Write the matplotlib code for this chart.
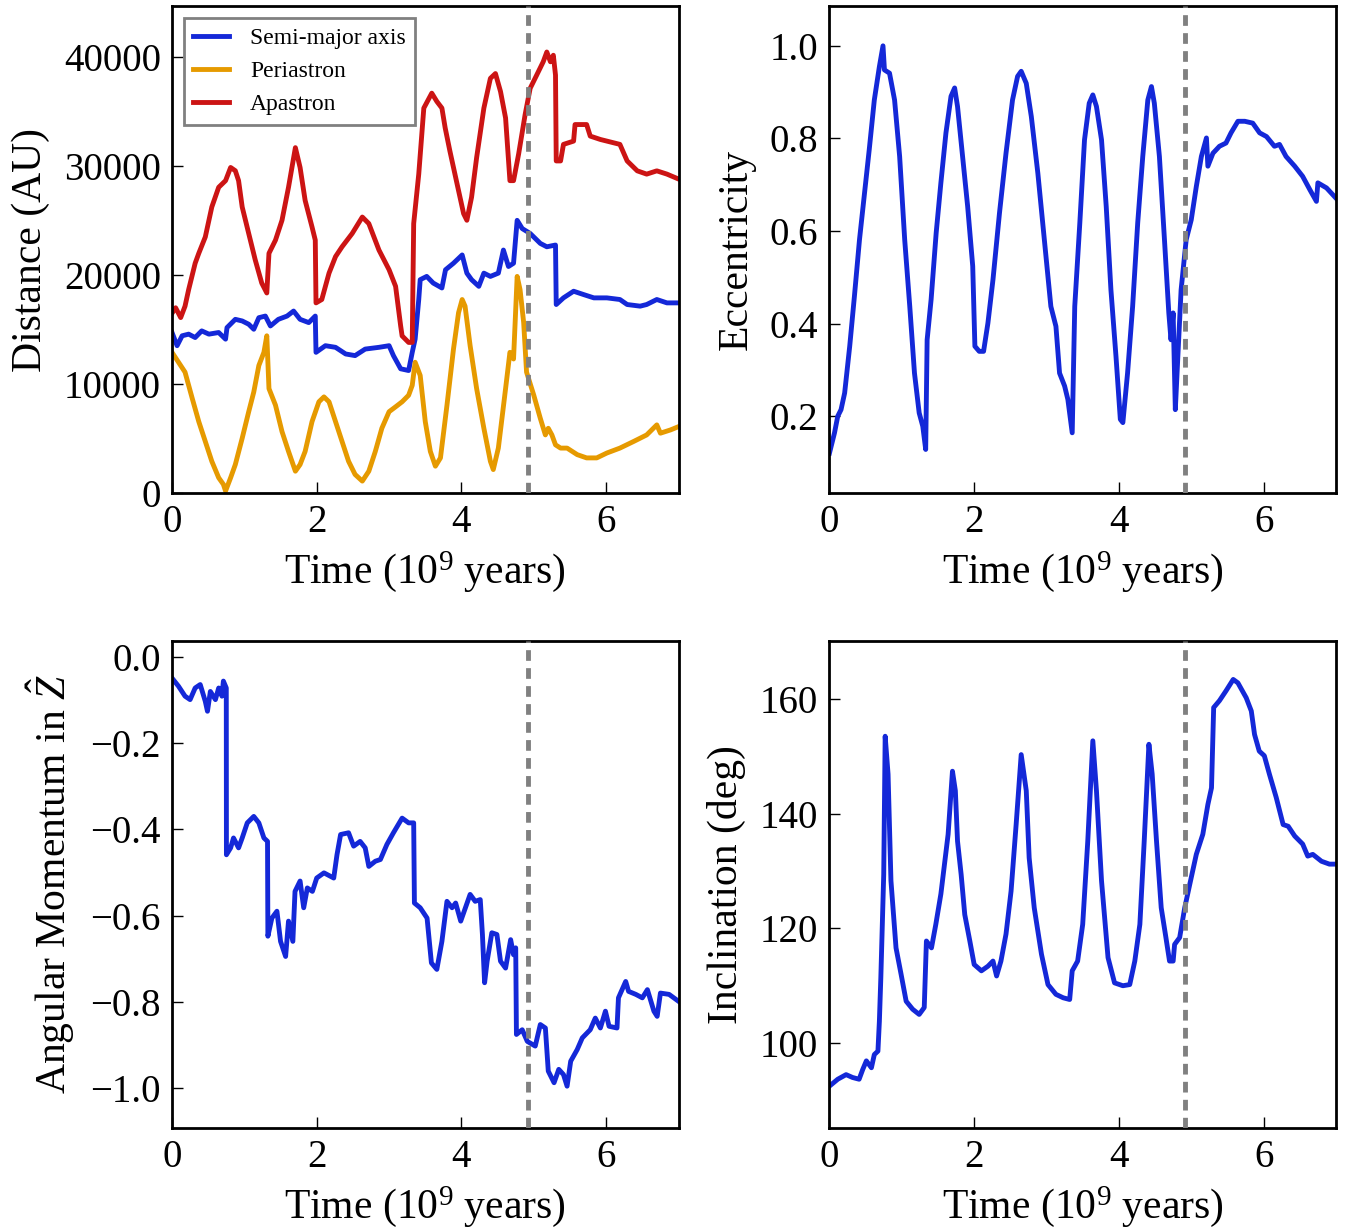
import numpy as np
import matplotlib
matplotlib.use("Agg")
import matplotlib.pyplot as plt

plt.rcParams['font.family'] = ['Liberation Serif', 'DejaVu Serif']
plt.rcParams['mathtext.fontset'] = 'custom'
plt.rcParams['mathtext.rm'] = 'Liberation Serif'
plt.rcParams['mathtext.it'] = 'Liberation Serif:italic'
plt.rcParams['font.size'] = 28

# Semi-major axis, periastron, apastron (AU) against time (Gyr)
apo_t = [0.0, 0.05, 0.12, 0.18, 0.23, 0.32, 0.37, 0.46, 0.55, 0.645, 0.74, 0.81, 0.875, 0.92, 0.97,
         1.06, 1.15, 1.24, 1.31, 1.34, 1.43, 1.52, 1.61, 1.705, 1.77, 1.84, 1.935, 1.98, 1.99, 2.07,
         2.17, 2.26, 2.35, 2.49, 2.63, 2.72, 2.86, 3.0, 3.09, 3.16, 3.18, 3.27, 3.32, 3.34, 3.41,
         3.48, 3.59, 3.66, 3.73, 3.775, 3.84, 3.94, 4.03, 4.075, 4.14, 4.21, 4.31, 4.40, 4.47, 4.54,
         4.61, 4.67, 4.72, 4.79, 4.88, 4.95, 5.04, 5.13, 5.18, 5.23, 5.27, 5.30, 5.31, 5.37, 5.41,
         5.55, 5.57, 5.73, 5.78, 5.92, 6.19, 6.29, 6.43, 6.56, 6.70, 6.84, 7.0]
apo_au = [16500, 17000, 16100, 17150, 18670, 21090, 22000, 23500, 26250, 28060, 28670, 29880, 29580,
          28670, 26250, 23820, 21400, 19270, 18360, 22000, 23210, 25030, 28060, 31700, 29880, 26850,
          24420, 23210, 17450, 17760, 20180, 21700, 22600, 23820, 25330, 24730, 22300, 20490, 18970,
          15330, 14420, 13820, 13820, 24730, 29270, 35330, 36700, 35940, 35330, 33520, 31400, 28360,
          25640, 25030, 27150, 30790, 35330, 38060, 38500, 36850, 34420, 28670, 28670, 31100, 34730,
          37150, 38360, 39580, 40480, 39580, 40180, 38360, 30480, 30480, 32000, 32300, 33820, 33820,
          32760, 32450, 32000, 30480, 29570, 29270, 29570, 29270, 28820]

a_t = [0.0, 0.07, 0.14, 0.23, 0.32, 0.41, 0.51, 0.645, 0.74, 0.76, 0.875, 0.97, 1.06, 1.13, 1.20,
       1.29, 1.36, 1.47, 1.59, 1.68, 1.77, 1.89, 1.98, 1.99, 2.12, 2.26, 2.40, 2.53, 2.67, 2.86, 3.0,
       3.06, 3.16, 3.27, 3.32, 3.36, 3.41, 3.43, 3.52, 3.61, 3.73, 3.78, 3.89, 4.01, 4.075, 4.14,
       4.24, 4.31, 4.40, 4.51, 4.58, 4.65, 4.72, 4.77, 4.84, 4.95, 5.09, 5.18, 5.30, 5.31, 5.41,
       5.55, 5.69, 5.83, 6.01, 6.19, 6.29, 6.47, 6.56, 6.70, 6.84, 7.0]
a_au = [14730, 13520, 14430, 14580, 14270, 14880, 14580, 14730, 14120, 15180, 15940, 15790, 15490,
        15030, 16090, 16240, 15330, 15940, 16240, 16700, 15940, 15640, 16240, 12910, 13520, 13370,
        12760, 12610, 13210, 13370, 13520, 12610, 11400, 11240, 12910, 14120, 17760, 19580, 19880,
        19270, 18820, 20490, 21090, 21850, 20180, 19580, 18970, 20180, 19880, 20180, 22300, 20790,
        21090, 25030, 24270, 23820, 22910, 22600, 22760, 17300, 17910, 18520, 18210, 17910, 17910,
        17760, 17300, 17150, 17300, 17760, 17450, 17450]

peri_t = [0.0, 0.09, 0.18, 0.28, 0.37, 0.46, 0.55, 0.645, 0.71, 0.74, 0.81, 0.875, 0.97, 1.06,
          1.13, 1.20, 1.27, 1.31, 1.34, 1.43, 1.52, 1.61, 1.705, 1.77, 1.84, 1.935, 2.03, 2.10,
          2.17, 2.26, 2.35, 2.44, 2.53, 2.63, 2.72, 2.81, 2.90, 3.0, 3.09, 3.18, 3.27, 3.32, 3.36,
          3.43, 3.50, 3.57, 3.64, 3.71, 3.80, 3.89, 3.96, 4.01, 4.05, 4.12, 4.21, 4.31, 4.40, 4.44,
          4.51, 4.61, 4.67, 4.72, 4.77, 4.81, 4.86, 4.90, 5.00, 5.09, 5.16, 5.20, 5.25, 5.30, 5.37,
          5.46, 5.60, 5.73, 5.87, 6.01, 6.19, 6.38, 6.56, 6.70, 6.75, 6.89, 7.0]
peri_au = [12910, 12000, 11090, 8670, 6550, 4730, 2910, 1400, 790, 180, 1400, 2610, 5030, 7460,
           9270, 11700, 12910, 14430, 9580, 8060, 5640, 3820, 2000, 2610, 3820, 6550, 8370, 8820,
           8370, 6550, 4730, 2910, 1700, 1090, 2000, 3820, 5940, 7460, 7910, 8370, 8970, 9880,
           12000, 10790, 6550, 3820, 2460, 3220, 8060, 13210, 16550, 17760, 17150, 13520, 9580,
           5940, 2910, 2150, 4120, 9580, 12910, 12300, 19880, 18670, 15640, 11090, 8970, 6850,
           5330, 5940, 5330, 4420, 4120, 4120, 3520, 3220, 3220, 3670, 4120, 4730, 5330, 6250,
           5490, 5790, 6090]

# Eccentricity
ecc_t = [0.0, 0.07, 0.115, 0.16, 0.21, 0.28, 0.345, 0.415, 0.48, 0.55, 0.62, 0.69, 0.74, 0.76,
         0.83, 0.90, 0.97, 1.04, 1.11, 1.175, 1.24, 1.29, 1.33, 1.35, 1.405, 1.475, 1.54, 1.61,
         1.68, 1.73, 1.77, 1.84, 1.91, 1.98, 2.01, 2.07, 2.13, 2.19, 2.26, 2.35, 2.44, 2.53, 2.60,
         2.65, 2.72, 2.79, 2.88, 2.97, 3.06, 3.13, 3.18, 3.25, 3.295, 3.355, 3.39, 3.46, 3.525,
         3.59, 3.64, 3.69, 3.76, 3.825, 3.89, 3.96, 4.02, 4.055, 4.12, 4.19, 4.26, 4.33, 4.40,
         4.45, 4.49, 4.56, 4.63, 4.69, 4.72, 4.75, 4.78, 4.815, 4.86, 4.93, 5.0, 5.07, 5.14,
         5.21, 5.23, 5.30, 5.39, 5.48, 5.55, 5.645, 5.74, 5.85, 5.945, 6.04, 6.15, 6.22, 6.31,
         6.43, 6.54, 6.64, 6.73, 6.75, 6.87, 7.0]
ecc = [0.12, 0.164, 0.20, 0.214, 0.25, 0.351, 0.459, 0.581, 0.675, 0.776, 0.883, 0.955, 1.0,
       0.948, 0.941, 0.883, 0.761, 0.581, 0.437, 0.293, 0.207, 0.178, 0.128, 0.365, 0.452, 0.596,
       0.704, 0.812, 0.891, 0.909, 0.869, 0.761, 0.653, 0.524, 0.351, 0.34, 0.34, 0.401, 0.495,
       0.639, 0.768, 0.883, 0.934, 0.945, 0.919, 0.847, 0.725, 0.581, 0.437, 0.394, 0.293, 0.265,
       0.236, 0.164, 0.437, 0.617, 0.797, 0.876, 0.894, 0.869, 0.797, 0.653, 0.473, 0.329, 0.193,
       0.186, 0.293, 0.437, 0.617, 0.761, 0.883, 0.912, 0.876, 0.761, 0.581, 0.423, 0.365, 0.423,
       0.214, 0.329, 0.473, 0.581, 0.624, 0.696, 0.761, 0.801, 0.74, 0.768, 0.783, 0.79, 0.812,
       0.837, 0.837, 0.833, 0.812, 0.804, 0.783, 0.787, 0.761, 0.74, 0.718, 0.689, 0.664, 0.704,
       0.693, 0.671]

# Angular momentum in Z
lz_t = [0.0, 0.09, 0.18, 0.25, 0.32, 0.39, 0.46, 0.49, 0.53, 0.60, 0.645, 0.69, 0.71, 0.75, 0.752,
        0.81, 0.85, 0.92, 0.97, 1.04, 1.13, 1.20, 1.27, 1.32, 1.325, 1.38, 1.45, 1.50, 1.57, 1.61,
        1.67, 1.70, 1.77, 1.82, 1.87, 1.94, 2.0, 2.10, 2.235, 2.28, 2.33, 2.44, 2.51, 2.60, 2.67,
        2.72, 2.81, 2.88, 2.97, 3.06, 3.18, 3.27, 3.34, 3.35, 3.43, 3.525, 3.585, 3.66, 3.73, 3.80,
        3.87, 3.92, 3.99, 4.055, 4.12, 4.19, 4.26, 4.29, 4.32, 4.355, 4.42, 4.49, 4.54, 4.61, 4.68,
        4.72, 4.75, 4.76, 4.84, 4.91, 5.02, 5.09, 5.16, 5.20, 5.28, 5.345, 5.41, 5.46, 5.51, 5.60,
        5.67, 5.78, 5.85, 5.92, 5.99, 6.04, 6.15, 6.17, 6.27, 6.31, 6.41, 6.50, 6.57, 6.66, 6.705,
        6.75, 6.87, 7.0]
lz = [-0.049, -0.068, -0.091, -0.099, -0.072, -0.064, -0.103, -0.126, -0.08, -0.099, -0.072,
      -0.091, -0.056, -0.072, -0.459, -0.443, -0.42, -0.443, -0.42, -0.385, -0.37, -0.385, -0.42,
      -0.428, -0.648, -0.606, -0.59, -0.66, -0.695, -0.613, -0.66, -0.544, -0.52, -0.582, -0.536,
      -0.544, -0.513, -0.501, -0.513, -0.459, -0.412, -0.408, -0.439, -0.428, -0.443, -0.486,
      -0.474, -0.47, -0.435, -0.408, -0.374, -0.385, -0.385, -0.571, -0.582, -0.606, -0.71,
      -0.725, -0.66, -0.567, -0.582, -0.571, -0.613, -0.582, -0.551, -0.567, -0.563, -0.644,
      -0.756, -0.706, -0.64, -0.644, -0.706, -0.722, -0.656, -0.691, -0.675, -0.876, -0.865,
      -0.892, -0.903, -0.853, -0.861, -0.961, -0.988, -0.957, -0.969, -0.996, -0.938, -0.911,
      -0.884, -0.865, -0.838, -0.861, -0.822, -0.857, -0.861, -0.791, -0.753, -0.776, -0.783,
      -0.791, -0.772, -0.822, -0.834, -0.78, -0.783, -0.799]

# Inclination (deg)
inc_t = [0.0, 0.115, 0.23, 0.32, 0.41, 0.46, 0.51, 0.58, 0.62, 0.67, 0.69, 0.71, 0.75, 0.77, 0.81,
         0.85, 0.92, 0.99, 1.06, 1.15, 1.24, 1.31, 1.34, 1.41, 1.47, 1.54, 1.59, 1.64, 1.70, 1.74,
         1.77, 1.82, 1.87, 1.94, 2.0, 2.10, 2.19, 2.26, 2.31, 2.37, 2.44, 2.51, 2.58, 2.65, 2.72,
         2.76, 2.83, 2.93, 3.02, 3.13, 3.23, 3.32, 3.355, 3.43, 3.50, 3.57, 3.64, 3.69, 3.76, 3.85,
         3.94, 4.055, 4.15, 4.22, 4.29, 4.35, 4.415, 4.46, 4.52, 4.585, 4.65, 4.70, 4.75, 4.77,
         4.84, 4.91, 4.98, 5.07, 5.16, 5.23, 5.28, 5.31, 5.39, 5.48, 5.58, 5.645, 5.76, 5.83,
         5.875, 5.94, 6.01, 6.08, 6.175, 6.27, 6.34, 6.43, 6.54, 6.61, 6.68, 6.80, 6.91, 7.0]
inc = [92.5, 93.7, 94.5, 94.0, 93.7, 95.4, 96.9, 95.7, 98.0, 98.6, 103.8, 111.4, 129.4, 153.5,
       146.9, 128.3, 116.6, 112.0, 107.3, 105.9, 105.0, 106.2, 117.8, 116.6, 120.7, 126.0, 131.2,
       136.4, 147.4, 144.0, 135.2, 129.4, 122.4, 117.8, 113.7, 112.6, 113.4, 114.3, 111.7, 114.3,
       119.0, 126.5, 138.1, 150.3, 144.0, 132.3, 123.6, 115.5, 110.2, 108.5, 107.9, 107.6, 112.6,
       114.3, 120.7, 135.2, 152.7, 144.0, 128.3, 114.9, 110.5, 110.0, 110.2, 114.3, 120.7, 135.2,
       152.1, 146.9, 135.2, 123.6, 118.4, 114.3, 114.3, 117.2, 118.4, 123.6, 127.7, 132.9, 136.4,
       141.6, 144.5, 158.5, 159.7, 161.4, 163.4, 162.8, 160.2, 157.9, 153.8, 150.9, 150.1, 146.9,
       142.8, 138.1, 137.8, 136.1, 134.7, 132.6, 132.9, 131.7, 131.2, 131.2]

t_mark = 4.92

blue = '#1428d8'
orange = '#e69a00'
red = '#cc1414'
lw = 3.5

fig, axes = plt.subplots(2, 2, figsize=(13.47, 12.29), dpi=100)
plt.subplots_adjust(left=0.1277, right=0.9918, top=0.9951, bottom=0.0822,
                    wspace=0.298, hspace=0.304)

ax = axes[0, 0]
ax.plot(a_t, a_au, color=blue, lw=lw, label='Semi-major axis')
ax.plot(peri_t, peri_au, color=orange, lw=lw, label='Periastron')
ax.plot(apo_t, apo_au, color=red, lw=lw, label='Apastron')
ax.set_ylim(0, 44700)
ax.set_yticks([0, 10000, 20000, 30000, 40000])
ax.set_ylabel('Distance (AU)', fontsize=30, labelpad=10)
leg = ax.legend(loc='upper left', fontsize=17, fancybox=False, edgecolor='grey',
                framealpha=1, handlelength=1.5, handletextpad=0.9, borderaxespad=0.5)
leg.get_frame().set_linewidth(2)

ax = axes[0, 1]
ax.plot(ecc_t, ecc, color=blue, lw=lw)
ax.set_ylim(0.034, 1.086)
ax.set_yticks([0.2, 0.4, 0.6, 0.8, 1.0])
ax.set_ylabel('Eccentricity', fontsize=30, labelpad=10)

ax = axes[1, 0]
ax.plot(lz_t, lz, color=blue, lw=lw)
ax.set_ylim(-1.093, 0.037)
ax.set_yticks([-1.0, -0.8, -0.6, -0.4, -0.2, 0.0])
ax.set_ylabel(r'Angular Momentum in $\hat{Z}$', fontsize=30, labelpad=10)

ax = axes[1, 1]
ax.plot(inc_t, inc, color=blue, lw=lw)
ax.set_ylim(85.2, 170.1)
ax.set_yticks([100, 120, 140, 160])
ax.set_ylabel('Inclination (deg)', fontsize=30, labelpad=10)

for ax in axes.flat:
    ax.axvline(t_mark, color='grey', lw=3.5, ls=(0, (2.2, 1.5)), zorder=5)
    ax.set_xlim(0, 7)
    ax.set_xticks([0, 2, 4, 6])
    ax.set_xlabel(r'Time ($10^9$ years)', fontsize=30, labelpad=6)
    ax.tick_params(direction='in', length=8, width=1, pad=8, top=False, right=False,
                   labelsize=28)
    for s in ax.spines.values():
        s.set_linewidth(2)

plt.savefig('out.png', dpi=100)
